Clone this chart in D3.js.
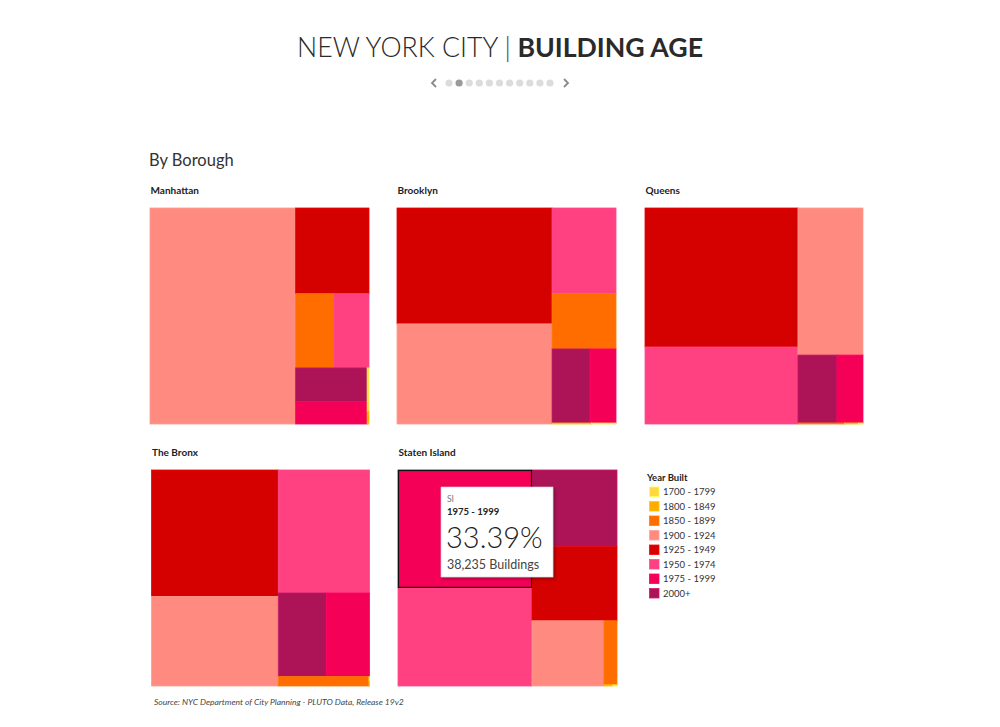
<!DOCTYPE html>
<html>
<head>
<meta charset="utf-8">
<script src="https://cdn.jsdelivr.net/npm/d3@7"></script>
<style>
  html, body { margin: 0; padding: 0; background: #ffffff; }
  svg { display: block; }
  text { font-family: Lato, "Open Sans", sans-serif; }
</style>
</head>
<body>
<svg id="chart" width="1000" height="727"></svg>
<script>
// ---------- DATA ----------
const categories = ["1700 - 1799", "1800 - 1849", "1850 - 1899", "1900 - 1924",
                    "1925 - 1949", "1950 - 1974", "1975 - 1999", "2000+"];
const categoryColors = ["#FFD740", "#FFAB00", "#FF6D00", "#FF8A80",
                        "#D50000", "#FF4081", "#F50057", "#AD1457"];
const boroughs = ["Manhattan", "Brooklyn", "Queens", "The Bronx", "Staten Island"];
// share of buildings (%) by year built, in category order
const manhattanShare    = [0.17, 0.05, 6.00, 66.50, 13.30,  5.50,  3.38,  5.10];
const brooklynShare     = [0.05, 0.08, 7.45, 32.80, 38.00, 11.60,  4.07,  5.95];
const queensShare       = [0.01, 0.03, 0.10, 20.30, 45.15, 25.00,  3.75,  5.63];
const bronxShare        = [0.005, 0.005, 1.80, 24.10, 34.00, 23.80,  7.65,  8.54];
const statenIslandShare = [0.01, 0.02, 1.78,  9.90, 13.30, 27.80, 33.39, 13.80];
const boroughShares = [manhattanShare, brooklynShare, queensShare, bronxShare, statenIslandShare];
// highlighted tooltip
const tooltipBorough = "Staten Island";
const tooltipAbbrev = "SI";
const tooltipCategory = "1975 - 1999";
const tooltipBuildings = 38235;
const paginationCount = 11;
const paginationActive = 1;

// ---------- LAYOUT ----------
const svg = d3.select("#chart");
const panels = [
  {x: 150, y: 208, w: 219, h: 216},
  {x: 397, y: 208, w: 219, h: 216},
  {x: 645, y: 208, w: 218, h: 216},
  {x: 151.5, y: 470, w: 218, h: 216},
  {x: 398, y: 470, w: 219, h: 216}
];
const color = d3.scaleOrdinal().domain(categories).range(categoryColors);

// Title
const title = svg.append("text")
  .attr("x", 500).attr("y", 57)
  .attr("text-anchor", "middle")
  .attr("fill", "#2a2a2a")
  .style("font-family", "Lato, 'Open Sans', sans-serif")
  .style("font-size", "30px");
title.append("tspan").attr("font-weight", 300).text("NEW YORK CITY ");
title.append("tspan").attr("font-weight", 300).attr("fill", "#444").text("|");
title.append("tspan").attr("font-weight", 700).text(" BUILDING AGE");
// scale title to reference width
const tl = title.node().getComputedTextLength();
title.style("font-size", (30 * 406 / tl).toFixed(2) + "px");

// Pagination
const dotX = d3.scalePoint().domain(d3.range(paginationCount)).range([449, 550]);
svg.append("g").selectAll("circle")
  .data(d3.range(paginationCount))
  .join("circle")
  .attr("cx", d => dotX(d)).attr("cy", 83).attr("r", 3.6)
  .attr("fill", d => d === paginationActive ? "#9a9a9a" : "#dcdcdc");
svg.append("path").attr("d", "M436,79 L432,83 L436,87")
  .attr("fill", "none").attr("stroke", "#8a8a8a").attr("stroke-width", 1.8);
svg.append("path").attr("d", "M564,79 L568,83 L564,87")
  .attr("fill", "none").attr("stroke", "#8a8a8a").attr("stroke-width", 1.8);

// Subtitle
svg.append("text").attr("x", 149).attr("y", 166)
  .attr("fill", "#333").style("font-size", "16.5px").style("font-weight", 400)
  .text("By Borough");

// Treemaps
boroughs.forEach((b, bi) => {
  const p = panels[bi];
  svg.append("text").attr("x", p.x + 0.5).attr("y", p.y - 14)
    .attr("fill", "#222").style("font-size", "10px").style("font-weight", 700)
    .text(b);

  const root = d3.hierarchy({
      children: categories.map((c, i) => ({cat: c, value: boroughShares[bi][i]}))
    })
    .sum(d => d.value || 0)
    .sort((a, c) => c.value - a.value);
  d3.treemap().size([p.w, p.h]).tile(d3.treemapSquarify)(root);

  const g = svg.append("g").attr("transform", `translate(${p.x},${p.y})`);
  g.selectAll("rect")
    .data(root.leaves())
    .join("rect")
    .attr("x", d => d.x0).attr("y", d => d.y0)
    .attr("width", d => Math.max(0, d.x1 - d.x0))
    .attr("height", d => Math.max(0, d.y1 - d.y0))
    .attr("fill", d => color(d.data.cat))
    .attr("stroke", d => d3.color(color(d.data.cat)).brighter(0.35))
    .attr("stroke-width", 0.8);

  if (b === tooltipBorough) {
    const leaf = root.leaves().find(d => d.data.cat === tooltipCategory);
    g.append("rect")
      .attr("x", leaf.x0 + 0.5).attr("y", leaf.y0 + 0.5)
      .attr("width", leaf.x1 - leaf.x0 - 1).attr("height", leaf.y1 - leaf.y0 - 1)
      .attr("fill", "none").attr("stroke", "#111").attr("stroke-width", 1.2);
  }
});

// Legend
const lg = svg.append("g");
lg.append("text").attr("x", 647).attr("y", 481)
  .attr("fill", "#222").style("font-size", "9.5px").style("font-weight", 700)
  .text("Year Built");
const ly = d3.scalePoint().domain(categories).range([491.5, 593]);
categories.forEach(c => {
  lg.append("rect").attr("x", 649.5).attr("y", ly(c) - 4.5)
    .attr("width", 9.5).attr("height", 9.5)
    .attr("fill", color(c)).attr("stroke", d3.color(color(c)).brighter(0.5)).attr("stroke-width", 0.8);
  lg.append("text").attr("x", 663).attr("y", ly(c) + 3.5)
    .attr("fill", "#333").style("font-size", "9.5px")
    .text(c);
});

// Source
svg.append("text").attr("x", 154).attr("y", 705)
  .attr("fill", "#444").style("font-size", "8.5px").style("font-style", "italic")
  .text("Source: NYC Department of City Planning - PLUTO Data, Release 19v2");

// Tooltip
const defs = svg.append("defs");
const f = defs.append("filter").attr("id", "shadow").attr("x", "-10%").attr("y", "-10%")
  .attr("width", "130%").attr("height", "130%");
f.append("feDropShadow").attr("dx", 1.5).attr("dy", 1.5).attr("stdDeviation", 1.5)
  .attr("flood-color", "#000").attr("flood-opacity", 0.35);
const siIdx = boroughs.indexOf(tooltipBorough);
const siTotal = d3.sum(boroughShares[siIdx]);
const siVal = boroughShares[siIdx][categories.indexOf(tooltipCategory)];
const tt = svg.append("g").attr("transform", "translate(441,487)");
tt.append("rect").attr("width", 112).attr("height", 90)
  .attr("fill", "#fff").attr("stroke", "#d0d0d0").attr("stroke-width", 0.6)
  .attr("filter", "url(#shadow)");
tt.append("text").attr("x", 6).attr("y", 15).attr("fill", "#777")
  .style("font-size", "8.5px").text(tooltipAbbrev);
tt.append("text").attr("x", 6).attr("y", 28).attr("fill", "#222")
  .style("font-size", "9.5px").style("font-weight", 700).text(tooltipCategory);
tt.append("text").attr("x", 5).attr("y", 61).attr("fill", "#222")
  .style("font-size", "29px").style("font-weight", 300)
  .text(d3.format(".2f")(siVal / siTotal * 100) + "%");
tt.append("text").attr("x", 6).attr("y", 82).attr("fill", "#444")
  .style("font-size", "12.5px").style("font-weight", 400)
  .text(d3.format(",")(tooltipBuildings) + " Buildings");
</script>
</body>
</html>
